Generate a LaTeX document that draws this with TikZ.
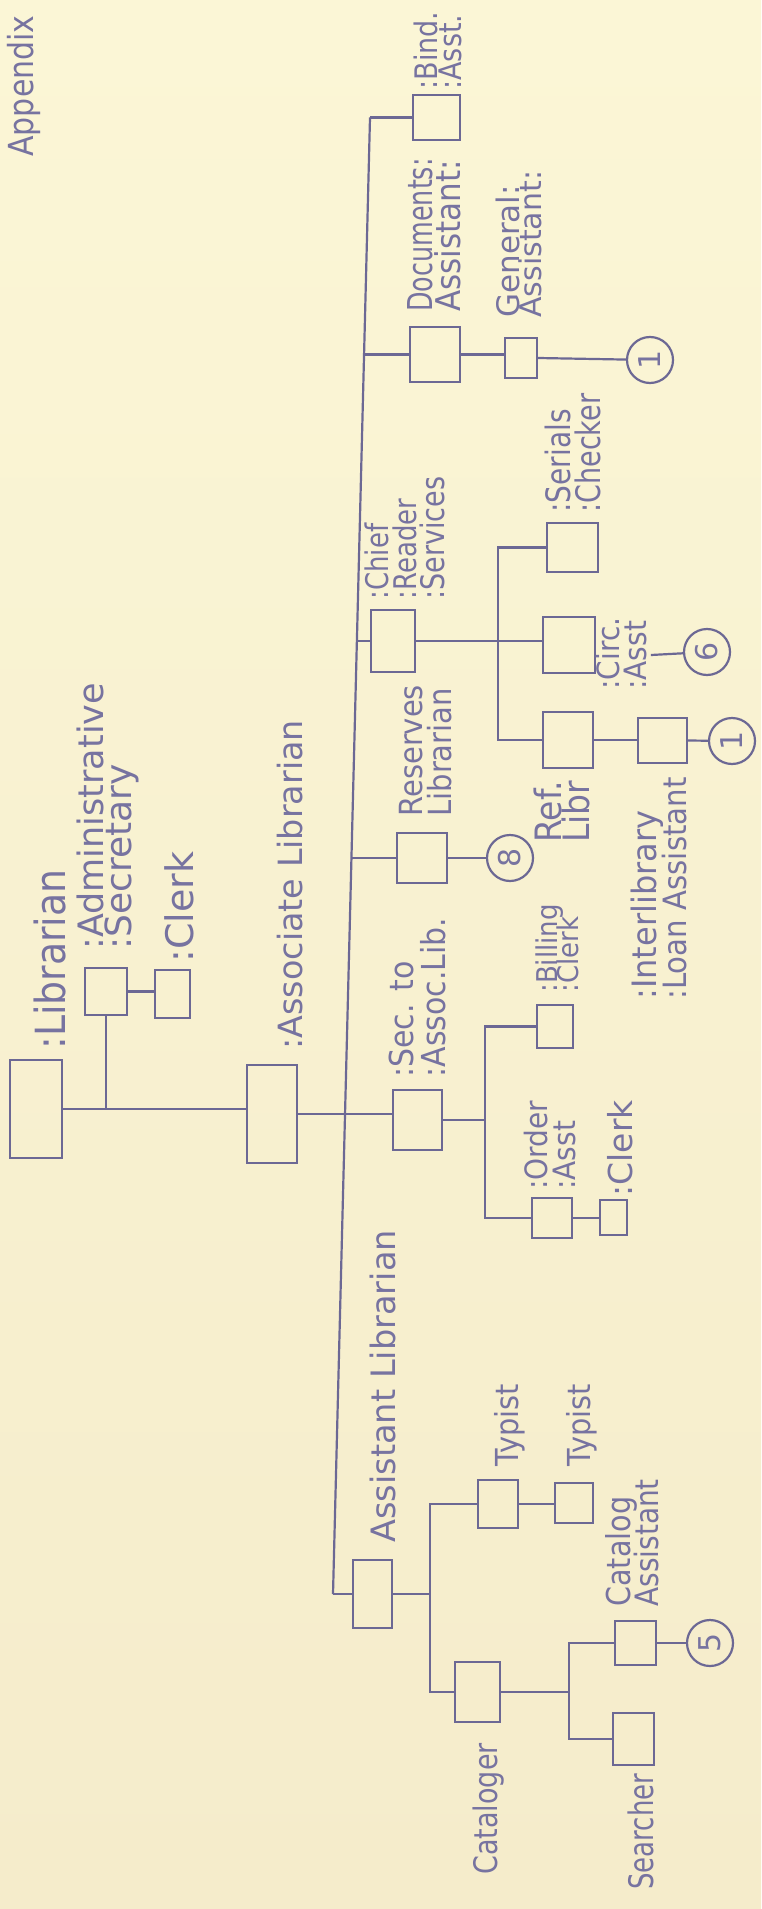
\documentclass[tikz,border=0pt]{standalone}
\usepackage{fontspec}
\setmainfont{DejaVu Sans}
\usepackage{graphicx}
\definecolor{papertop}{HTML}{FBF6D6}
\definecolor{paperbot}{HTML}{F5ECCB}
\definecolor{ink}{HTML}{6C6894}
\definecolor{textink}{HTML}{7773A0}
\newcommand\orgbox[5]{\node[box, minimum width={(#4-#2)*0.5pt}, minimum height={(#5-#3)*0.5pt}] (#1) at ({(#2+#4)/2},{(#3+#5)/2}) {};}
\newcommand\orglabel[6]{\node[lab, font=\fontsize{#4}{#4}\selectfont] (#1) at (#2,#3) {\scalebox{1}[#5]{#6}};}
\newcommand\orgcircle[4]{\node[numc] (#1) at (#2,#3) {\rotatebox{90}{#4}};}
\begin{document}
\begin{tikzpicture}[x={(0.5pt,0)}, y={(0,-0.5pt)},
  box/.style={draw=ink, line width=1.1pt, inner sep=0pt},
  conn/.style={draw=ink, line width=1.1pt},
  lab/.style={rotate=90, anchor=base west, inner sep=0pt, text=textink},
  numc/.style={circle, draw=ink, line width=1.1pt, minimum size=23pt, inner sep=0pt, text=textink, font=\fontsize{15}{15}\selectfont}]
\shade[top color=papertop, bottom color=paperbot] (0,0) rectangle (761,1909);
\useasboundingbox (0,0) rectangle (761,1909);

% boxes
\orgbox{bind}{413}{95}{460}{140}
\orgbox{docs}{410}{327}{460}{382}
\orgbox{gen}{505}{338}{537}{378}
\orgbox{chief}{371}{610}{415}{672}
\orgbox{serials}{547}{523}{598}{572}
\orgbox{circ}{543}{617}{595}{673}
\orgbox{ref}{543}{712}{593}{768}
\orgbox{ill}{638}{718}{687}{763}
\orgbox{res}{397}{833}{447}{883}
\orgbox{admin}{85}{968}{127}{1015}
\orgbox{clerka}{155}{970}{190}{1018}
\orgbox{lib}{10}{1060}{62}{1158}
\orgbox{assoc}{247}{1065}{297}{1163}
\orgbox{sec}{393}{1090}{442}{1150}
\orgbox{billing}{537}{1005}{573}{1048}
\orgbox{order}{532}{1198}{572}{1238}
\orgbox{clerkb}{600}{1200}{627}{1235}
\orgbox{asstlib}{353}{1560}{392}{1628}
\orgbox{typa}{478}{1480}{518}{1528}
\orgbox{typb}{555}{1483}{593}{1523}
\orgbox{cat}{455}{1662}{500}{1722}
\orgbox{catas}{615}{1621}{656}{1665}
\orgbox{search}{613}{1713}{654}{1765}

% circles
\orgcircle{cia}{650}{360}{1}
\orgcircle{cf}{707}{652}{6}
\orgcircle{cib}{732}{741}{1}
\orgcircle{ce}{510}{858}{8}
\orgcircle{cv}{710}{1643}{5}

% labels
\orglabel{appx}{33}{157}{15}{1.15}{Appendix}
\orglabel{bindla}{437}{90}{13.5}{1.15}{:Bind.}
\orglabel{bindlb}{461}{90}{13.5}{1.15}{:Asst.}
\orglabel{docla}{432}{312}{12.7}{1.35}{Documents:}
\orglabel{doclb}{460}{312}{15.5}{1.1}{Assistant:}
\orglabel{genla}{519}{318}{15.5}{1.0}{General:}
\orglabel{genlb}{541}{318}{15}{1.0}{Assistant:}
\orglabel{chiefla}{388}{600}{13}{1.2}{:Chief}
\orglabel{chieflb}{416}{600}{13}{1.2}{:Reader}
\orglabel{chieflc}{444}{600}{13.5}{1.2}{:Services}
\orglabel{serla}{570}{513}{14}{1.2}{:Serials}
\orglabel{serlb}{600}{513}{13.5}{1.25}{:Checker}
\orglabel{circla}{619}{690}{14}{1.1}{:Circ.}
\orglabel{circlb}{646}{690}{14}{1.1}{:Asst}
\orglabel{resla}{422}{817}{14.5}{1.1}{Reserves}
\orglabel{reslb}{451}{817}{14.5}{1.1}{Librarian}
\orglabel{refla}{561}{843}{16.5}{1.1}{Ref.}
\orglabel{reflb}{589}{843}{16.5}{1.1}{Libr}
\orglabel{illla}{656}{1000}{16}{1.05}{:Interlibrary}
\orglabel{illlb}{686}{1000}{14.6}{1.1}{:Loan Assistant}
\orglabel{adminla}{103}{950}{17.5}{1.0}{:Administrative}
\orglabel{adminlb}{131}{950}{18}{1.0}{:Secretary}
\orglabel{clerkal}{193}{963}{19}{1.0}{:Clerk}
\orglabel{libl}{65}{1050}{18.9}{1.1}{:Librarian}
\orglabel{assocl}{302}{1050}{16.7}{1.0}{:Associate Librarian}
\orglabel{secla}{413}{1078}{15}{1.1}{:Sec. to}
\orglabel{seclb}{445}{1078}{15}{1.1}{:Assoc.Lib.}
\orglabel{billla}{557}{993}{13}{1.1}{:Billing}
\orglabel{billlb}{578}{993}{13}{1.1}{:Clerk}
\orglabel{orderla}{547}{1190}{14}{1.1}{:Order}
\orglabel{orderlb}{575}{1190}{14}{1.1}{:Asst}
\orglabel{clerkbl}{632}{1197}{16.5}{1.0}{:Clerk}
\orglabel{asstlibl}{395}{1543}{16.8}{1.0}{Assistant Librarian}
\orglabel{typal}{518}{1467}{14.4}{1.1}{Typist}
\orglabel{typbl}{590}{1467}{14.4}{1.1}{Typist}
\orglabel{catl}{497}{1875}{13.5}{1.2}{Cataloger}
\orglabel{searchl}{653}{1890}{13}{1.3}{Searcher}
\orglabel{catasla}{630}{1607}{14.3}{1.15}{Catalog}
\orglabel{casaslb}{658}{1607}{14}{1.15}{Assistant}

% spine and junctions
\coordinate (spTop) at (370,117.5);
\coordinate (spBot) at (333,1594);
\coordinate (jDoc) at (364,354.5);
\coordinate (jChief) at (357,641);
\coordinate (jRes) at (351.4,858);
\coordinate (rsbus) at (498,0);
\coordinate (sbus) at (485,0);
\coordinate (abus) at (430,0);
\coordinate (cbus) at (569,0);

\draw[conn] (spTop) -- (spBot);
\draw[conn] (spTop) -- (bind.west);
\draw[conn] (jDoc) -- (docs.west);
\draw[conn] (docs.east) -- (docs.east -| gen.west);
\draw[conn] (gen.east) -- (cia);
\draw[conn] (jChief) -- (chief.west);
\draw[conn] (chief.east) -- (chief.east -| circ.west);
\draw[conn] (serials.west) -- (serials.west -| rsbus) -- (ref.west -| rsbus) -- (ref.west);
\draw[conn] (ref.east) -- (ref.east -| ill.west);
\draw[conn] (ill.east) -- (cib);
\draw[conn,shorten <=2pt] (circlb.south) -- (cf);
\draw[conn] (jRes) -- (res.west);
\draw[conn] (res.east) -- (ce);
\draw[conn] (lib.east) -- (lib.east -| assoc.west);
\draw[conn] (admin.south) -- (admin.south |- lib.east);
\draw[conn] (admin.east) -- (admin.east -| clerka.west);
\draw[conn] (assoc.east) -- (assoc.east -| sec.west);
\draw[conn] (sec.east) -- (sec.east -| sbus);
\draw[conn] (billing.west) -- (billing.west -| sbus) -- (order.west -| sbus) -- (order.west);
\draw[conn] (order.east) -- (order.east -| clerkb.west);
\draw[conn] (spBot) -- (asstlib.west);
\draw[conn] (asstlib.east) -- (asstlib.east -| abus);
\draw[conn] (typa.west) -- (typa.west -| abus) -- (cat.west -| abus) -- (cat.west);
\draw[conn] (typa.east) -- (typa.east -| typb.west);
\draw[conn] (cat.east) -- (cat.east -| cbus);
\draw[conn] (catas.west) -- (catas.west -| cbus) -- (search.west -| cbus) -- (search.west);
\draw[conn] (catas.east) -- (cv);
\end{tikzpicture}
\end{document}
